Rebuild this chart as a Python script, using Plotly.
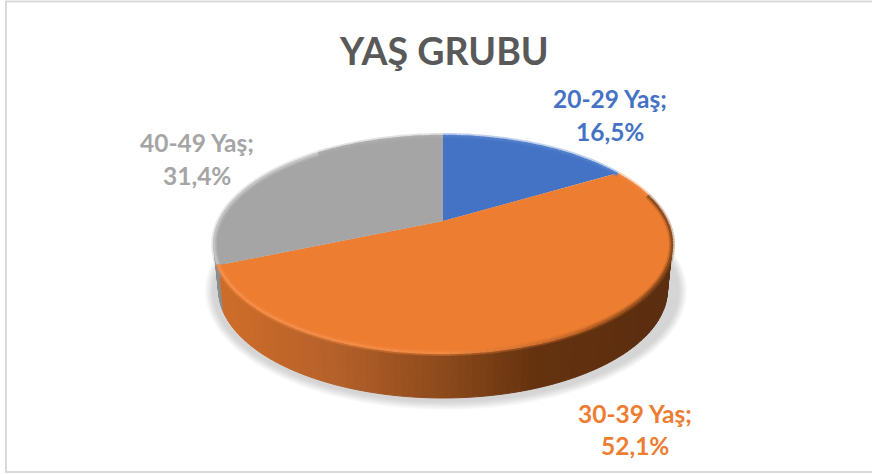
import numpy as np
import plotly.graph_objects as go

# ---- data ----
categories = ["20-29 Yaş", "30-39 Yaş", "40-49 Yaş"]
values = [16.5, 52.1, 31.4]
value_labels = ["16,5%", "52,1%", "31,4%"]
title_text = "YAŞ GRUBU"

# ---- style ----
colors = ["#4472C4", "#ED7D31", "#A5A5A5"]
side_stops = {
    0: [(0, "#4472C4"), (1, "#2A4A80")],
    1: [(0.0, "#CC6C2A"), (0.25, "#B4602A"), (0.5, "#8C4A1C"), (0.72, "#65330F"), (1.0, "#5C2E10")],
    2: [(0, "#8C8C8C"), (1, "#7A7A7A")],
}
FONT = "Lato, Carlito, Calibri, sans-serif"
CX, CY, RX, RY, K, DEPTH, TAPER = 443.0, 221.0, 223.6, 103.4, 0.2166, 45.0, 0.98


def project(theta):
    """theta in radians, clockwise from the top of the disc."""
    u, v = np.sin(theta), -np.cos(theta)
    w = 1 - K * v
    return CX + RX * u / w, CY + RY * v / w


def hex_rgb(c):
    return np.array([int(c[i:i + 2], 16) for i in (1, 3, 5)], float)


def ramp(stops, t):
    t = float(np.clip(t, 0, 1))
    for (a, ca), (b, cb) in zip(stops, stops[1:]):
        if t <= b:
            f = (t - a) / (b - a)
            rgb = hex_rgb(ca) * (1 - f) + hex_rgb(cb) * f
            return "rgb(%d,%d,%d)" % tuple(rgb)
    return stops[-1][1]


def poly(x, y, fill, line=None, width=1):
    return go.Scatter(
        x=list(x), y=list(y), mode="lines", fill="toself", fillcolor=fill,
        line=dict(color=line or fill, width=width if line else 0),
        hoverinfo="skip", showlegend=False,
    )


def lower(x):
    return CX + (x - CX) * TAPER


fractions = np.array(values) / sum(values)
edges = np.concatenate([[0], np.cumsum(fractions)]) * 2 * np.pi
fig = go.Figure()

# soft ground shadow
t = np.linspace(0, 2 * np.pi, 181)
for i in range(9):
    grow = 9 - i
    fig.add_trace(poly(
        CX + 3 + (232 + grow) * np.cos(t), 291 + (110 + grow) * np.sin(t),
        "rgba(120,120,120,0.035)"))

# side wall: small quads along the visible rim
start = np.pi / 2 - np.arcsin(K)
stop = 3 * np.pi / 2 + np.arcsin(K)
ths = np.linspace(start, stop, 141)
xmin, xmax = project(stop)[0], project(start)[0]
for a, b in zip(ths[:-1], ths[1:]):
    mid = (a + b) / 2
    idx = int(np.searchsorted(edges, mid) - 1)
    ax, ay = project(a)
    bx, by = project(b)
    c = ramp(side_stops[idx], (((ax + bx) / 2) - xmin) / (xmax - xmin))
    fig.add_trace(poly([ax, bx, lower(bx), lower(ax), ax],
                       [ay, by, by + DEPTH, ay + DEPTH, ay], c, c, 1))

# top face wedges
for i, col in enumerate(colors):
    th = np.linspace(edges[i], edges[i + 1], 120)
    px, py = project(th)
    fig.add_trace(poly(np.r_[CX, px, CX], np.r_[CY, py, CY], col))

# bevel along the rim: a wide soft band under a narrow one
bevel_ths = np.linspace(0, 2 * np.pi, 241)
for width, alpha in ((6, 0.35), (2.5, 1.0)):
    for a, b in zip(bevel_ths[:-1], bevel_ths[1:]):
        mid = (a + b) / 2
        idx = int(np.searchsorted(edges, mid) - 1)
        ax, ay = project(a)
        bx, by = project(b)
        s = (((ax + bx) / 2) - xmin) / (xmax - xmin)
        front = -np.cos(mid) > -0.25
        if idx == 1:
            if not front:
                col = "#EE8238"
            else:
                col = ramp([(0, "#F58F4A"), (0.5, "#F28A42"), (0.8, "#C96A2A"), (1, "#8E4C1C")], s)
        elif idx == 2:
            col = "#C4C4C4" if s < 0.2 else "#ABABAB"
        else:
            col = "#4F7CCB"
        fig.add_trace(go.Scatter(x=[ax, bx], y=[ay, by], mode="lines", opacity=alpha,
                                 line=dict(color=col, width=width),
                                 hoverinfo="skip", showlegend=False))

# chart frame
frame = [
    dict(x0=6, x1=6, y0=1, y1=472),
    dict(x0=5, x1=872, y0=1.5, y1=1.5),
    dict(x0=5, x1=872, y0=472, y1=472),
]
shapes = [dict(type="line", xref="x", yref="y", line=dict(color="#D9D9D9", width=2), **f) for f in frame]

# text
label_pos = [(610, 98, 131), (635, 413, 445), (197, 142, 175)]
annotations = [dict(x=444, y=50, text=title_text, showarrow=False, xref="x", yref="y",
                    font=dict(family=FONT, size=37.5, color="#595959", weight="bold"))]
for name, val, col, (lx, y1, y2) in zip(categories, value_labels, colors, label_pos):
    for txt, ly in ((name + ";", y1), (val, y2)):
        annotations.append(dict(x=lx, y=ly, text=txt, showarrow=False, xref="x", yref="y",
                                font=dict(family=FONT, size=24.5, color=col, weight="bold")))

fig.update_layout(
    width=872, height=474, margin=dict(l=0, r=0, t=0, b=0),
    paper_bgcolor="white", plot_bgcolor="white", showlegend=False,
    xaxis=dict(range=[0, 872], visible=False, fixedrange=True),
    yaxis=dict(range=[474, 0], visible=False, fixedrange=True),
    shapes=shapes, annotations=annotations,
)
fig.write_html("out.html", config={"displayModeBar": False},
               post_script="document.body.style.margin='0';document.body.style.overflow='hidden';")
